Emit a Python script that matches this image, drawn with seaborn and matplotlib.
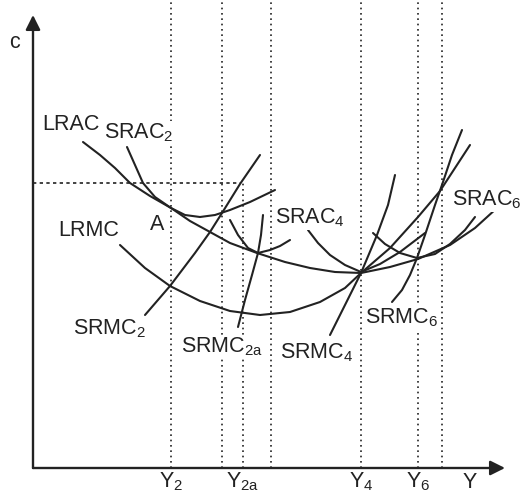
import numpy as np
import pandas as pd
import seaborn as sns
import matplotlib.pyplot as plt

# curve points (origin at the axes corner)
lrac_x = [50, 67, 82, 97, 117, 138, 157, 177, 197, 224, 252, 277, 302, 328, 357, 385, 417, 442, 464]
lrac_y = [326, 313, 300, 285, 272, 260, 247, 236, 225, 215, 206, 200, 196, 195, 201, 209, 223, 240, 260]

lrmc_x = [87, 112, 137, 167, 197, 227, 257, 287, 312, 328, 357, 385, 407, 437]
lrmc_y = [223, 200, 182, 167, 157, 153, 156, 166, 180, 195, 220, 251, 277, 323]

srac2_x = [94, 102, 110, 122, 138, 152, 167, 182, 197, 217, 242]
srac2_y = [321, 303, 285, 271, 260, 253, 251, 253, 258, 266, 278]

srmc2_x = [112, 137, 162, 177, 189, 207, 227]
srmc2_y = [153, 182, 215, 236, 255, 284, 313]

srac2a_x = [197, 205, 215, 225, 237, 247, 257]
srac2a_y = [248, 233, 220, 215, 218, 222, 228]

srmc2a_x = [205, 212, 219, 225, 228, 230]
srmc2a_y = [141, 168, 193, 215, 233, 253]

srac4_x = [275, 285, 297, 312, 328, 347, 367, 392]
srac4_y = [238, 225, 213, 203, 196, 204, 216, 235]

srmc4_x = [297, 312, 328, 344, 355, 362]
srmc4_y = [133, 163, 195, 233, 263, 293]

srac6_x = [340, 352, 367, 384, 402, 417, 432, 442]
srac6_y = [235, 224, 215, 210, 214, 224, 238, 251]

srmc6_x = [359, 369, 377, 384, 392, 402, 410, 419, 429]
srmc6_y = [166, 178, 193, 210, 233, 263, 286, 313, 338]

# output levels on the Y axis
guide_x = [138, 189, 238, 328, 385, 409]
y2a_x = 210
c_level = 285

tick_pos = [138, 210, 328, 385, 437]
tick_lab = ['Y$_2$', 'Y$_{2a}$', 'Y$_4$', 'Y$_6$', 'Y']

labels = ['LRAC', 'SRAC$_2$', 'A', 'LRMC', 'SRAC$_4$', 'SRAC$_6$',
          'SRMC$_2$', 'SRMC$_{2a}$', 'SRMC$_4$', 'SRMC$_6$']
label_x = [38, 106, 124, 56, 277, 454, 77, 189, 284, 369]
label_y = [343, 335, 243, 238, 250, 268, 139, 121, 115, 150]

sns.set_style('white')
plt.rcParams['font.family'] = ['Liberation Sans', 'DejaVu Sans']
plt.rcParams['mathtext.default'] = 'regular'

ink = '#222222'
fig = plt.figure(figsize=(5.22, 4.96), dpi=100)
ax = fig.add_axes([0, 0, 1, 1])

# dotted guides
for gx in guide_x:
    ax.plot([gx, gx], [0, 468], color=ink, lw=1.2, ls=(0, (1, 2.2)), zorder=1)
ax.plot([y2a_x, y2a_x], [0, c_level], color=ink, lw=1.2, ls=(0, (1, 2.2)), zorder=1)
ax.plot([0, 207], [c_level, c_level], color=ink, lw=1.2, ls=(0, (2, 2)), zorder=1)

curves = [(lrac_x, lrac_y), (lrmc_x, lrmc_y), (srac2_x, srac2_y), (srmc2_x, srmc2_y),
          (srac2a_x, srac2a_y), (srmc2a_x, srmc2a_y), (srac4_x, srac4_y),
          (srmc4_x, srmc4_y), (srac6_x, srac6_y), (srmc6_x, srmc6_y)]
for cx, cy in curves:
    df = pd.DataFrame({'x': cx, 'y': cy})
    sns.lineplot(data=df, x='x', y='y', sort=False, estimator=None,
                 color=ink, lw=1.5, ax=ax, zorder=3)
ax.set_xlim(-33, 489)
ax.set_ylim(-28, 468)
ax.axis('off')

# axes with arrow heads
arr = dict(arrowstyle='-|>', color=ink, lw=1.7, mutation_scale=22, shrinkA=0, shrinkB=0)
ax.annotate('', xy=(0, 453), xytext=(0, 0), arrowprops=arr, zorder=4)
ax.annotate('', xy=(472, 0), xytext=(0, 0), arrowprops=arr, zorder=4)

ax.text(-18, 426, 'c', fontsize=15.5, ha='center', va='center', color=ink)
for tx, tl in zip(tick_pos, tick_lab):
    ax.text(tx, -14, tl, fontsize=15.5, ha='center', va='center', color=ink)

for lx, ly, lt in zip(label_x, label_y, labels):
    ax.text(lx, ly, lt, fontsize=15.5, ha='center', va='center', color=ink, zorder=5,
            bbox=dict(facecolor='white', edgecolor='none', pad=0.5))

fig.savefig('out.png', dpi=100)
